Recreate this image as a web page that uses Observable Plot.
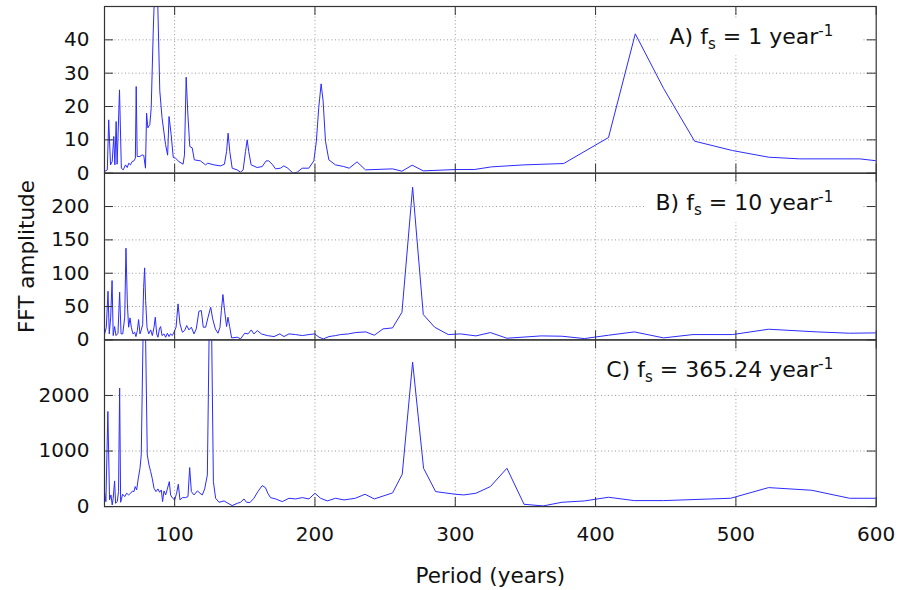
<!DOCTYPE html>
<html><head><meta charset="utf-8">
<script src="https://cdn.jsdelivr.net/npm/d3@7"></script>
<script src="https://cdn.jsdelivr.net/npm/@observablehq/plot@0.6"></script>
<style>
body{margin:0;background:#fff;}
#chart{position:relative;width:899px;height:590px;font-family:"DejaVu Sans";}
#chart svg{position:absolute;left:0;top:0;}
</style></head><body><div id="chart"></div>
<script>
// Panel A: fs = 1 year^-1
const periodA=[50,52,53,54.3,55.5,56.6,57.4,58.3,59,60.7,62,63.3,65,66.2,67.3,68.5,69.7,71,72,72.6,73.3,75.2,76.8,78,79.2,80,80.9,82.3,83.3,84.7,86.9,89.4,91,93.5,95,96,97.5,99,100.6,103,106,107,108.2,109.4,110.8,112.5,114,118.4,122,123.6,128,132.7,135.5,137,138.1,139.3,141,144.5,147,148.8,150.5,151.7,152.8,154.5,158.8,162.4,165.2,167,169.5,171.9,175.4,177.8,180.6,184.4,187.3,190.9,195.6,199.2,201,202.7,204.4,205.8,207.5,209.9,214.6,220.5,224.4,230,236,255.3,262,269.3,277.2,300,313.5,325.8,349,377.3,409.2,428.3,448.5,470.6,497.5,523.3,545.4,588.3,600.6];
const ampA=[0.5,1,16,2.5,3.5,11,2.5,15.5,2.7,25,1.5,1,2.5,1.7,3,2.5,3.5,3.7,4.5,26,5,5,5.5,5.3,1.5,18,13.6,14.6,19.7,42,70,24.7,16.7,8.6,5.4,17,11.6,4.7,4.5,3.5,2.7,5.5,28.8,17.7,8,7.6,4,3.7,2.5,3,2.5,2.2,2.7,6.5,12,6.5,1.5,1,0.3,1,6.5,10,6.5,2.5,1.7,2,3.7,3.7,2.7,1.3,1.5,2.2,1.5,0,0.3,1.5,1.5,3.7,9.6,19.7,26.8,21.7,9.6,4,2.5,2,1.5,3.4,1,1.3,0.6,2.4,0.7,1.1,1.1,1.9,2.5,2.9,10.7,41.8,25.4,9.6,6.8,4.8,4.3,4.3,3.7];
// Panel B: fs = 10 year^-1
const periodB=[50.1,51.3,52.5,53.4,54.4,55.4,56.2,57.2,58.2,59.6,60.8,61.8,63,64.4,65.3,66.3,67.2,68.2,69.1,70.3,71.5,72.4,73.4,74.3,75.3,76.2,77.2,77.9,78.6,79.3,80.3,81.5,82.9,84.1,85.3,86.2,87.2,88.1,89.1,90,91,92.4,93.6,94.8,96,97.1,98.3,99.5,101,102.4,103.8,105.5,107.1,108.6,110.2,111.9,113.8,115.4,117.3,119,120.4,122.1,123.8,125.7,127.1,129,130.9,132.3,133.3,134.4,135.6,137,138,139.2,140.6,144.7,147,149.9,152.3,154.6,156.5,158.9,161.8,166,170.8,175,177.9,181.5,186.2,191,195.7,199.8,202.9,206,210,214.7,218.3,224,228.8,236.2,242.3,248.5,255.3,262,269.6,277.2,285.3,295,303.7,314.7,325,336.8,361.3,376,392,409.2,427.6,448.5,469.3,497.5,523.3,557.7,581,599.4];
const ampB=[9,19,73,9,34,89,6.5,20,6.5,10,71.5,9,9,34,137.5,54,19,33,19,9,11.5,5,14,30.5,9,15,23,79,108,59,19,9,15,6.5,19,34,9,4,16.5,20,6.5,9,4,10,5,9,6.5,11.5,19,54,24,11.5,14,21.5,15,19,9,16.5,43,44,19,19,34,49,31.5,16.5,10,19,44,68,44,20,34,20,3,4,1.5,10,9,15,9,14,9,6.5,5,9,5,9,8,6.5,8,9,4,1.5,5,6.5,8,9,11,12,7,16.5,18,41.5,229,38,19,8,9,6,11,2.5,6,5.5,2,7,12,3,8,8,16,12,10,10.5];
// Panel C: fs = 365.24 year^-1
const periodC=[50,51,52.4,53.6,54.6,55.5,56.2,57.2,57.9,59.1,60,60.8,61.5,62.9,64.4,65.8,67.2,68.6,70,71,71.9,72.9,74.1,75.3,76.2,78.4,80.5,81.7,82.9,84,85.3,86.7,88.1,89.3,90.5,91.4,92.4,93.6,94.8,96.2,97.1,98.6,100,101.4,102.6,103.8,105.5,107.8,109.5,110.7,111.9,113.8,116.2,118.1,119.7,121.4,123.3,125.5,127.6,129.2,131.6,135.2,138,141,144.7,147,149.4,151.2,153.6,156.5,159.3,162.4,164.7,166.4,168.3,171.9,176.7,181.5,186.2,191,195.7,200,204,208.8,214.7,220.7,228.8,235.7,242.3,255.3,262.2,269.6,277.4,286,300,306.1,314.7,325,336.8,349,362.6,376,392,409.2,427.6,448.5,496.3,523.3,554,581,599.4];
const ampC=[270,90,1712,120,210,30,150,462,60,90,270,2132,78,222,180,240,210,240,282,270,360,300,510,690,930,4600,930,750,630,510,330,270,318,258,300,90,282,210,318,450,210,150,120,240,402,120,162,162,180,702,270,210,282,240,210,318,570,5000,450,150,78,102,60,18,60,78,138,78,72,150,270,378,342,240,162,138,90,150,138,162,138,240,150,102,150,120,150,222,138,246,583,2600,690,270,222,210,240,360,690,42,12,78,102,168,108,108,150,342,294,150,150];

const xTicks=[100,200,300,400,500,600];
const xGrid=[100,200,300,400,500];
const ticksA=[0,10,20,30,40], gridA=[10,20,30,40];
const ticksB=[0,50,100,150,200], gridB=[50,100,150,200];
const ticksC=[0,1000,2000], gridC=[1000,2000];
const labelA=["A) f","s"," = 1 year","-1"];
const labelB=["B) f","s"," = 10 year","-1"];
const labelC=["C) f","s"," = 365.24 year","-1"];
const xTitle="Period (years)", yTitle="FFT amplitude";

const W=899,H=590,ML=104,MR=23.3;
const panels=[
  {period:periodA,amp:ampA,top:6,bottom:172.7,domain:[0,50],ticks:ticksA,grid:gridA,lab:labelA},
  {period:periodB,amp:ampB,top:172.7,bottom:339.4,domain:[0,250],ticks:ticksB,grid:gridB,lab:labelB},
  {period:periodC,amp:ampC,top:339.4,bottom:506.1,domain:[0,3000],ticks:ticksC,grid:gridC,lab:labelC}
];
const chart=document.getElementById("chart");
const ns="http://www.w3.org/2000/svg";
panels.forEach((p,i)=>{
  const ph=p.bottom-p.top, pw=W-ML-MR;
  const data=p.period.map((x,j)=>({x,y:p.amp[j]}));
  const last=i===2;
  const plain=p.lab.join("");
  const gridStyle={stroke:"#9a9a9a",strokeOpacity:1,strokeWidth:1,strokeDasharray:"1,2.5"};
  const marks=[
    Plot.gridY(p.grid,gridStyle),
    Plot.gridX(xGrid,gridStyle),
    Plot.line(data,{x:"x",y:"y",stroke:"#2b2bff",strokeWidth:1,clip:true}),
    Plot.tickY(p.ticks,{y:d=>d,stroke:"#333",insetRight:pw-9}),
    Plot.tickY(p.ticks,{y:d=>d,stroke:"#333",insetLeft:pw-9}),
    Plot.tickX(xTicks,{x:d=>d,stroke:"#333",insetBottom:ph-9}),
    Plot.tickX(xTicks,{x:d=>d,stroke:"#333",insetTop:ph-9}),
    Plot.axisY(p.ticks,{tickSize:0,tickPadding:15,fontSize:20,label:null,tickFormat:d=>String(d)}),
    Plot.frame({stroke:"#333",strokeWidth:1.2}),
    Plot.text([plain],{frameAnchor:"top-right",dx:-43,dy:37,textAnchor:"end",lineAnchor:"bottom",fontSize:22})
  ];
  if(last){
    marks.push(Plot.axisX(xTicks,{tickSize:0,tickPadding:20,fontSize:20,label:null,tickFormat:d=>String(d)}));
    marks.push(Plot.text([xTitle],{frameAnchor:"bottom",dy:76,textAnchor:"middle",lineAnchor:"bottom",fontSize:21.5}));
  }
  if(i===1) marks.push(Plot.text([yTitle],{frameAnchor:"left",dx:-77,rotate:-90,textAnchor:"middle",lineAnchor:"middle",fontSize:21.5}));
  const svg=Plot.plot({
    width:W,height:H,marginLeft:ML,marginRight:MR,marginTop:p.top,marginBottom:H-p.bottom,
    x:{domain:[50,600],axis:last?undefined:null},
    y:{domain:p.domain},
    style:{background:"transparent",fontFamily:"DejaVu Sans",fontSize:"20px",color:"#111"},
    marks
  });
  chart.appendChild(svg);
  const t=[...svg.querySelectorAll("text")].find(e=>e.textContent===plain);
  if(t){
    t.textContent="";
    const ts=(str,attrs)=>{const s=document.createElementNS(ns,"tspan");s.textContent=str;for(const k in attrs)s.setAttribute(k,attrs[k]);t.appendChild(s);};
    ts(p.lab[0],{});
    ts(p.lab[1],{dy:5,"font-size":15});
    ts(p.lab[2],{dy:-5});
    ts(p.lab[3],{dy:-8,"font-size":15});
    const bb=t.getBBox();
    const r=document.createElementNS(ns,"rect");
    r.setAttribute("x",bb.x-10);r.setAttribute("y",bb.y-3);
    r.setAttribute("width",bb.width+38);r.setAttribute("height",bb.height+6);
    r.setAttribute("fill","#fff");
    if(t.getAttribute("transform"))r.setAttribute("transform",t.getAttribute("transform"));
    t.parentNode.insertBefore(r,t);
  }
});
</script></body></html>
